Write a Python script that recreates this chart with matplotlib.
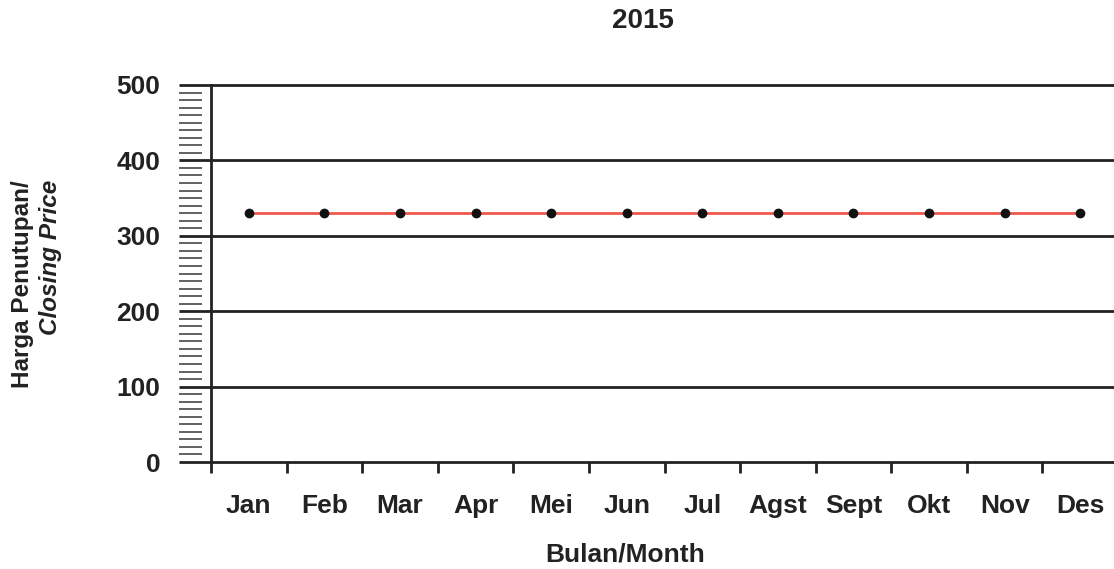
import numpy as np
import matplotlib
matplotlib.use("Agg")
import matplotlib.pyplot as plt
from matplotlib.transforms import blended_transform_factory

months = ["Jan", "Feb", "Mar", "Apr", "Mei", "Jun",
          "Jul", "Agst", "Sept", "Okt", "Nov", "Des"]
closing = [330, 330, 330, 330, 330, 330, 330, 330, 330, 330, 330, 330]
yticks = [0, 100, 200, 300, 400, 500]

plt.rcParams["font.family"] = ["Liberation Sans", "DejaVu Sans"]
W, H = 1114, 569
INK = "#222"
fig = plt.figure(figsize=(W / 100, H / 100), dpi=100)
ax = fig.add_axes([211 / W, 107 / H, 907 / W, 377 / H])

x = np.arange(len(months)) + 0.5
ax.plot(x, closing, color="#f0584c", lw=2, zorder=3)
ax.plot(x, closing, "o", color="#111", ms=6, zorder=4)

ax.set_xlim(0, 12)
ax.set_ylim(0, 500)

# gridlines + the minor scale sitting left of the axis
tr = blended_transform_factory(ax.transAxes, ax.transData)
ax.hlines(yticks, -32 / 907, 1, transform=tr, color=INK, lw=2,
          clip_on=False, zorder=2)
minor = [v for v in range(10, 500, 10) if v % 100]
ax.hlines(minor, -32 / 907, -9 / 907, transform=tr, color="#555",
          lw=1.3, clip_on=False)

for s in ["top", "right", "bottom"]:
    ax.spines[s].set_visible(False)
ax.spines["left"].set_linewidth(2)
ax.spines["left"].set_color(INK)

ax.set_yticks(yticks)
ax.set_yticklabels([str(v) for v in yticks], fontsize=19, fontweight="bold",
                   color=INK)
ax.tick_params(axis="y", length=0, pad=36.5)

ax.set_xticks(range(13))
ax.set_xticklabels([""] * 13)
ax.tick_params(axis="x", which="major", direction="out", length=8,
               width=2, color=INK)
ax.set_xticks(x, minor=True)
ax.set_xticklabels(months, minor=True, fontsize=19, fontweight="bold",
                   color=INK)
ax.tick_params(axis="x", which="minor", length=0, pad=23)

fig.text(643 / W, 1 - 21 / H, "2015", ha="center", va="center",
         fontsize=20, fontweight="bold", color=INK)
fig.text(625 / W, 1 - 555 / H, "Bulan/Month", ha="center", va="center",
         fontsize=19, fontweight="bold", color=INK)
fig.text(23 / W, 1 - 180 / H, "Harga Penutupan/", rotation=90, ha="center",
         va="top", fontsize=17.5, fontweight="bold", color=INK)
fig.text(51 / W, 1 - 180 / H, "Closing Price", rotation=90, ha="center",
         va="top", fontsize=17.5, fontweight="bold", style="italic",
         color=INK)

fig.savefig("out.png", dpi=100)
